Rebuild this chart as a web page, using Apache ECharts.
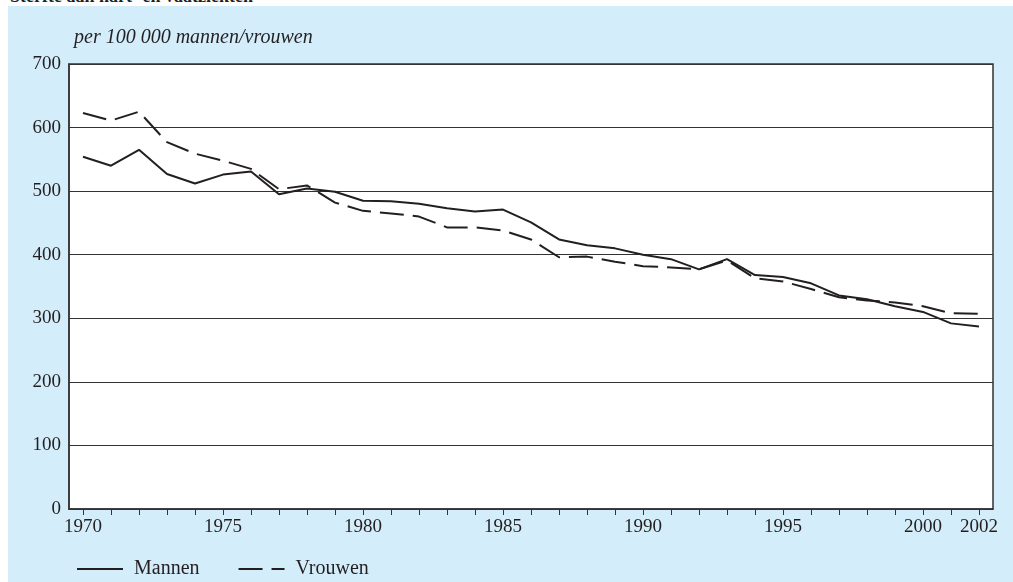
<!DOCTYPE html>
<html lang="nl">
<head>
    <meta charset="UTF-8">
    <title>Sterfte aan hart- en vaatziekten</title>
    <style>
        html, body {
            margin: 0;
            padding: 0;
            background: #ffffff;
        }

        #chart {
            position: absolute;
            left: 8px;
            top: 6px;
            width: 1005px;
            height: 576px;
            background: #d4edfa;
        }

        #kop {
            position: absolute;
            left: 10px;
            top: -14px;
            font: bold 18px "Liberation Serif", serif;
            color: #231f20;
        }
    </style>
    <script src="https://cdn.jsdelivr.net/npm/echarts@6/dist/echarts.min.js"></script>
</head>
<body>
<div id="kop">Sterfte aan hart- en vaatziekten</div>
<div id="chart"></div>

<script>
    // jaren op de x-as
    var jaren = [];
    for (var j = 1970; j <= 2002; j++) {
        jaren.push(String(j));
    }
    // jaren met een label
    var labelJaren = ['1970', '1975', '1980', '1985', '1990', '1995', '2000', '2002'];

    // per 100 000 mannen
    var mannen = [554, 540, 565, 527, 512, 526, 531, 495, 504, 499,
        485, 484, 480, 473, 468, 471, 451, 424, 415, 410,
        400, 393, 377, 393, 368, 365, 355, 336, 330, 319,
        310, 292, 287];
    // per 100 000 vrouwen
    var vrouwen = [623, 611, 625, 577, 559, 548, 535, 503, 509, 482,
        469, 465, 460, 443, 443, 438, 424, 396, 397, 389,
        382, 380, 377, 391, 363, 358, 346, 333, 328, 325,
        319, 308, 307];

    var tekst = '#231f20';
    var font = '"Liberation Serif", serif';

    var myChart = echarts.init(document.getElementById('chart'));
    var option = {
        animation: false,
        title: {
            text: 'per 100 000 mannen/vrouwen',
            left: 61,
            top: 17,
            textStyle: {
                fontFamily: font,
                fontStyle: 'italic',
                fontWeight: 'normal',
                fontSize: 20,
                color: tekst
            }
        },
        legend: {
            left: 63,
            top: 548,
            itemWidth: 46,
            itemHeight: 14,
            itemGap: 38,
            itemStyle: {opacity: 0},
            lineStyle: {width: 2},
            textStyle: {fontFamily: font, fontSize: 20, color: tekst, padding: [0, 0, 0, 6]},
            data: ['Mannen', 'Vrouwen']
        },
        grid: {
            left: 61,
            right: 20,
            top: 58,
            bottom: 73,
            show: true,
            backgroundColor: '#ffffff',
            borderColor: '#333333',
            borderWidth: 1.5
        },
        xAxis: {
            type: 'category',
            data: jaren,
            boundaryGap: true,
            axisLine: {show: true, lineStyle: {color: '#333333', width: 1.5}},
            axisTick: {
                show: true,
                alignWithLabel: true,
                interval: 0,
                length: 6,
                lineStyle: {color: '#333333'}
            },
            axisLabel: {
                fontFamily: font,
                fontSize: 19,
                color: tekst,
                margin: 9,
                interval: function (i, v) {
                    return labelJaren.indexOf(v) >= 0;
                }
            },
            splitLine: {show: false}
        },
        yAxis: {
            type: 'value',
            min: 0,
            max: 700,
            interval: 100,
            axisLine: {show: true, lineStyle: {color: '#333333', width: 1.5}},
            axisTick: {show: false},
            axisLabel: {fontFamily: font, fontSize: 19, color: tekst, margin: 8},
            splitLine: {lineStyle: {color: '#333333', width: 1}}
        },
        series: [
            {
                name: 'Mannen',
                type: 'line',
                data: mannen,
                symbol: 'none',
                color: tekst,
                lineStyle: {color: tekst, width: 2}
            },
            {
                name: 'Vrouwen',
                type: 'line',
                data: vrouwen,
                symbol: 'none',
                color: tekst,
                lineStyle: {color: tekst, width: 2, type: [24, 9]}
            }
        ]
    };
    myChart.setOption(option);
</script>
</body>
</html>
